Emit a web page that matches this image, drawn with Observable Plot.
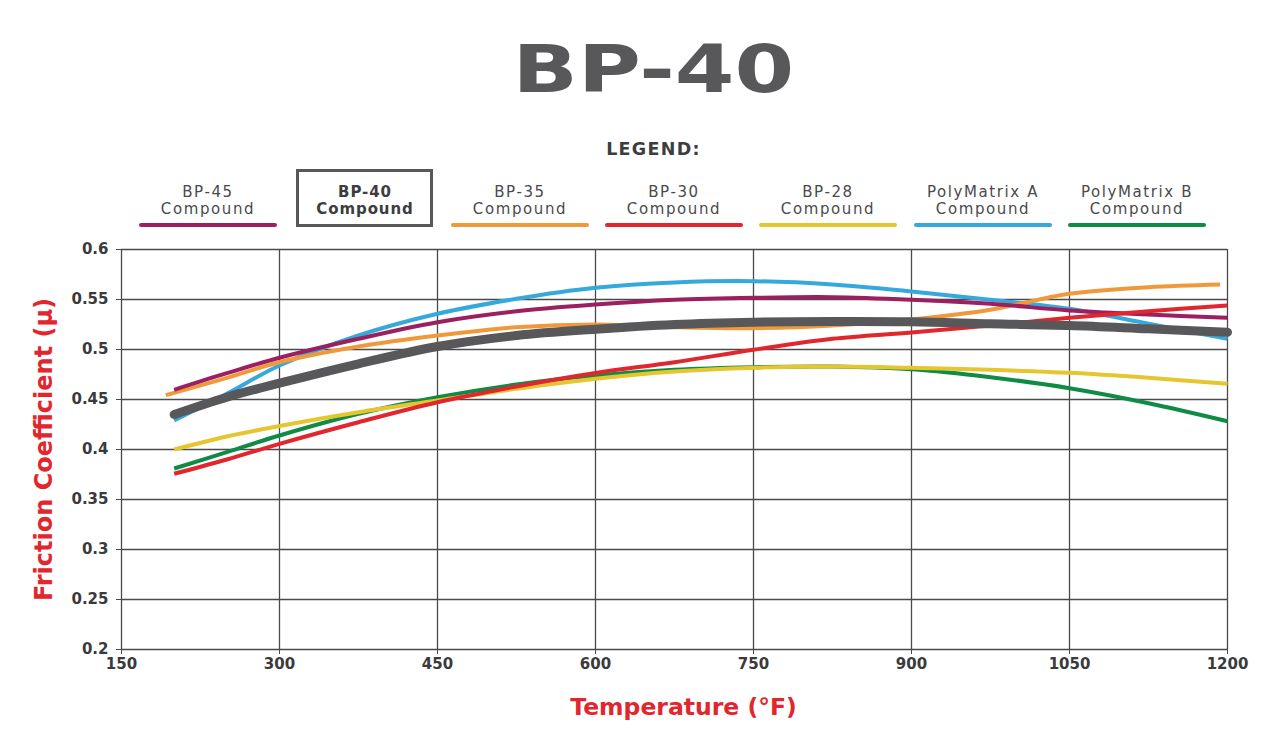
<!DOCTYPE html>
<html><head><meta charset="utf-8">
<script src="https://cdn.jsdelivr.net/npm/d3@7"></script>
<script src="https://cdn.jsdelivr.net/npm/@observablehq/plot@0.6"></script>
<style>
html,body{margin:0;padding:0;background:#fff;}
#root{position:relative;width:1271px;height:736px;overflow:hidden;font-family:"DejaVu Sans",sans-serif;background:#fff;}
#title{position:absolute;left:18px;width:1271px;top:37px;text-align:center;font-size:66px;line-height:66px;font-weight:bold;color:#58585a;}
#title span{display:inline-block;transform:scaleX(1.3);transform-origin:center;}
#legtitle{position:absolute;left:18px;width:1271px;top:141px;text-align:center;font-size:17.5px;line-height:17.5px;font-weight:bold;color:#3d3d3f;letter-spacing:1.3px;}
.item{position:absolute;width:150px;text-align:center;font-size:15px;line-height:15px;color:#4a4a4c;letter-spacing:1.6px;white-space:nowrap;}
.item.sel{font-weight:bold;color:#3d3d3f;letter-spacing:0.9px;}
.bar{position:absolute;top:223px;height:4px;width:138px;border-radius:2px;}
.box{position:absolute;left:296px;top:169px;width:131px;height:52px;border:3px solid #58585a;}
#chart{position:absolute;left:0;top:232px;}
</style></head><body><div id="root">
<div id="title"><span>BP-40</span></div>
<div id="legtitle">LEGEND:</div>
<div id="chart"></div>
</div>
<script>
const xTicks = [150, 300, 450, 600, 750, 900, 1050, 1200];
const yTicks = [0.2, 0.25, 0.3, 0.35, 0.4, 0.45, 0.5, 0.55, 0.6];
const seriesNames = ["BP-45", "BP-40", "BP-35", "BP-30", "BP-28", "PolyMatrix A", "PolyMatrix B"];
const seriesColors = ["#9c1f5f", "#58585b", "#f0993a", "#e1262d", "#e6c62e", "#35a9dc", "#0f8b45"];
const legendCenters = [208, 365, 520, 674, 828, 983, 1137];

const temps = [200, 250, 300, 375, 450, 525, 600, 675, 750, 825, 900, 975, 1050, 1125, 1200];
const tempsBP35 = [192, 200, 250, 300, 375, 450, 525, 600, 675, 750, 825, 900, 975, 1050, 1125, 1193];

const bp45 = [0.4597, 0.4763, 0.4917, 0.5107, 0.5273, 0.5383, 0.545, 0.5497, 0.5517, 0.5523, 0.5498, 0.5457, 0.539, 0.535, 0.5317];
const bp40 = [0.435, 0.4523, 0.4663, 0.4857, 0.503, 0.514, 0.5203, 0.525, 0.5273, 0.528, 0.5277, 0.5257, 0.524, 0.5207, 0.5173];
const bp35 = [0.4543, 0.4567, 0.4717, 0.4873, 0.503, 0.514, 0.5223, 0.525, 0.5223, 0.5213, 0.524, 0.53, 0.5397, 0.5557, 0.5623, 0.565];
const bp30 = [0.3757, 0.390, 0.4057, 0.4273, 0.4473, 0.463, 0.4765, 0.4873, 0.4997, 0.5107, 0.517, 0.524, 0.5317, 0.5383, 0.544];
const bp28 = [0.400, 0.413, 0.4235, 0.4373, 0.449, 0.4607, 0.4707, 0.478, 0.4817, 0.483, 0.4817, 0.4797, 0.4767, 0.4717, 0.4657];
const polyA = [0.429, 0.4557, 0.484, 0.514, 0.5357, 0.5507, 0.5617, 0.567, 0.5683, 0.565, 0.558, 0.5497, 0.5407, 0.5257, 0.5107];
const polyB = [0.381, 0.3973, 0.414, 0.4357, 0.4523, 0.465, 0.474, 0.4797, 0.4823, 0.483, 0.4802, 0.4723, 0.4613, 0.4463, 0.4283];

// legend
const root = document.getElementById("root");
const box = document.createElement("div"); box.className = "box"; root.appendChild(box);
seriesNames.forEach((n, i) => {
  [n, "Compound"].forEach((line, j) => {
    const it = document.createElement("div");
    it.className = "item" + (i === 1 ? " sel" : "");
    it.style.left = (legendCenters[i] - 75) + "px";
    it.style.top = (j === 0 ? 185 : 202) + "px";
    it.textContent = line;
    root.appendChild(it);
  });
  if (i !== 1) {
    const b = document.createElement("div");
    b.className = "bar";
    b.style.left = (legendCenters[i] - 69) + "px";
    b.style.background = seriesColors[i];
    root.appendChild(b);
  }
});

const toRows = (name, xs, ys) => xs.map((t, i) => ({series: name, temp: t, mu: ys[i]}));
const drawOrder = [
  ["PolyMatrix B", temps, polyB],
  ["BP-28", temps, bp28],
  ["PolyMatrix A", temps, polyA],
  ["BP-35", tempsBP35, bp35],
  ["BP-45", temps, bp45],
  ["BP-30", temps, bp30]
];
const colorOf = n => seriesColors[seriesNames.indexOf(n)];
const thinLines = drawOrder.map(([n, xs, ys]) =>
  Plot.line(toRows(n, xs, ys), {x: "temp", y: "mu", stroke: colorOf(n), strokeWidth: 4, curve: "catmull-rom", strokeLinecap: "butt"}));

const chart = Plot.plot({
  width: 1271,
  height: 504,
  marginTop: 17,
  marginBottom: 87,
  marginLeft: 121,
  marginRight: 44,
  style: {fontFamily: "DejaVu Sans, sans-serif", background: "#fff", overflow: "visible"},
  x: {domain: [150, 1200]},
  y: {domain: [0.2, 0.6]},
  marks: [
    Plot.gridX(xTicks, {stroke: "#4a4a4a", strokeOpacity: 1, strokeWidth: 1.3}),
    Plot.gridY(yTicks, {stroke: "#4a4a4a", strokeOpacity: 1, strokeWidth: 1.3}),
    Plot.axisX({ticks: xTicks, tickSize: 5, tickPadding: 4, label: null, fontSize: 15, fontWeight: "bold", fill: "#3a3a3c", stroke: "#4a4a4a", tickFormat: d => String(d)}),
    Plot.axisY({ticks: yTicks, tickSize: 5, tickPadding: 8, label: null, fontSize: 15, fontWeight: "bold", fill: "#3a3a3c", stroke: "#4a4a4a", tickFormat: d => String(+d.toFixed(2))}),
    ...thinLines,
    Plot.line(toRows("BP-40", temps, bp40), {x: "temp", y: "mu", stroke: colorOf("BP-40"), strokeWidth: 9, curve: "catmull-rom", strokeLinecap: "round"}),
    Plot.text(["Temperature (°F)"], {frameAnchor: "bottom", dx: 9, dy: 58, text: d => d, fill: "#e1262d", fontSize: 23.5, fontWeight: "bold", lineAnchor: "middle", textAnchor: "middle"}),
    Plot.text(["Friction Coefficient (µ)"], {frameAnchor: "left", dx: -77, rotate: -90, text: d => d, fill: "#e1262d", fontSize: 24, fontWeight: "bold", lineAnchor: "middle", textAnchor: "middle"})
  ]
});
document.getElementById("chart").appendChild(chart);
</script>
</body></html>
